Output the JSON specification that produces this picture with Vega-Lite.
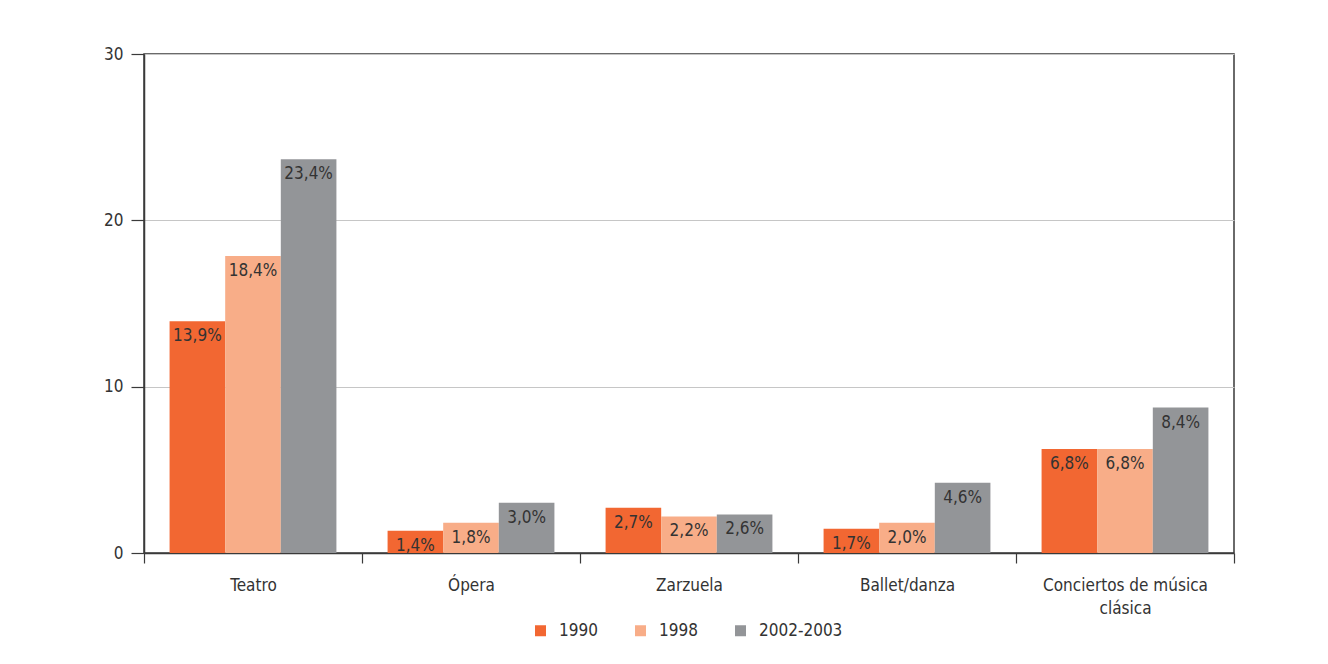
{
  "$schema": "https://vega.github.io/schema/vega-lite/v6.json",
  "width": 1090,
  "height": 499,
  "autosize": {"type": "none"},
  "padding": {"left": 144, "top": 54, "right": 94, "bottom": 111},
  "background": "white",
  "config": {
    "view": {"stroke": "#3a3a3a", "strokeWidth": 1.5},
    "font": "DejaVu Sans Condensed, Liberation Sans, sans-serif"
  },
  "data": {
    "values": [
      {"cat": "Teatro", "serie": "1990", "valor": 13.94, "label": "13,9%"},
      {"cat": "Teatro", "serie": "1998", "valor": 17.85, "label": "18,4%"},
      {"cat": "Teatro", "serie": "2002-2003", "valor": 23.67, "label": "23,4%"},
      {"cat": "Ópera", "serie": "1990", "valor": 1.34, "label": "1,4%"},
      {"cat": "Ópera", "serie": "1998", "valor": 1.82, "label": "1,8%"},
      {"cat": "Ópera", "serie": "2002-2003", "valor": 3.02, "label": "3,0%"},
      {"cat": "Zarzuela", "serie": "1990", "valor": 2.72, "label": "2,7%"},
      {"cat": "Zarzuela", "serie": "1998", "valor": 2.2, "label": "2,2%"},
      {"cat": "Zarzuela", "serie": "2002-2003", "valor": 2.32, "label": "2,6%"},
      {"cat": "Ballet/danza", "serie": "1990", "valor": 1.46, "label": "1,7%"},
      {"cat": "Ballet/danza", "serie": "1998", "valor": 1.82, "label": "2,0%"},
      {"cat": "Ballet/danza", "serie": "2002-2003", "valor": 4.22, "label": "4,6%"},
      {"cat": "Conciertos de música clásica", "serie": "1990", "valor": 6.26, "label": "6,8%"},
      {"cat": "Conciertos de música clásica", "serie": "1998", "valor": 6.26, "label": "6,8%"},
      {"cat": "Conciertos de música clásica", "serie": "2002-2003", "valor": 8.74, "label": "8,4%"}
    ]
  },
  "encoding": {
    "x": {
      "field": "cat",
      "type": "nominal",
      "sort": ["Teatro", "Ópera", "Zarzuela", "Ballet/danza", "Conciertos de música clásica"],
      "scale": {"paddingInner": 0, "paddingOuter": 0},
      "axis": {
        "title": null,
        "labelAngle": 0,
        "tickBand": "extent",
        "tickSize": 10,
        "labelPadding": 14,
        "labelFontSize": 17,
        "labelColor": "#333333",
        "domainColor": "#3a3a3a",
        "domainWidth": 1.5,
        "tickColor": "#3a3a3a",
        "tickWidth": 1.2,
        "labelLineHeight": 23,
        "labelExpr": "datum.label == 'Conciertos de música clásica' ? ['Conciertos de música', 'clásica'] : datum.label"
      }
    },
    "xOffset": {
      "field": "serie",
      "type": "nominal",
      "sort": ["1990", "1998", "2002-2003"],
      "scale": {"paddingInner": 0, "paddingOuter": 0.46}
    },
    "y": {
      "field": "valor",
      "type": "quantitative",
      "scale": {"domain": [0, 30], "nice": false},
      "axis": {
        "title": null,
        "values": [0, 10, 20, 30],
        "tickSize": 13,
        "labelPadding": 8,
        "labelFontSize": 17,
        "labelColor": "#333333",
        "domainColor": "#3a3a3a",
        "domainWidth": 1.5,
        "tickColor": "#3a3a3a",
        "tickWidth": 1.2,
        "grid": true,
        "gridColor": "#c6c6c6",
        "gridWidth": 1.2
      }
    }
  },
  "layer": [
    {
      "mark": {"type": "bar"},
      "encoding": {
        "color": {
          "field": "serie",
          "type": "nominal",
          "sort": ["1990", "1998", "2002-2003"],
          "scale": {"domain": ["1990", "1998", "2002-2003"], "range": ["#F26732", "#F8AD88", "#939598"]},
          "legend": {
            "title": null,
            "orient": "none",
            "legendX": 388,
            "legendY": 568,
            "direction": "horizontal",
            "symbolType": "square",
            "symbolSize": 121,
            "symbolStrokeWidth": 0,
            "labelFontSize": 17,
            "labelColor": "#333333",
            "columnPadding": 34,
            "labelOffset": 10
          }
        }
      }
    },
    {
      "mark": {"type": "text", "baseline": "middle", "dy": 15, "fontSize": 17, "color": "#333333"},
      "encoding": {"text": {"field": "label"}}
    }
  ]
}
